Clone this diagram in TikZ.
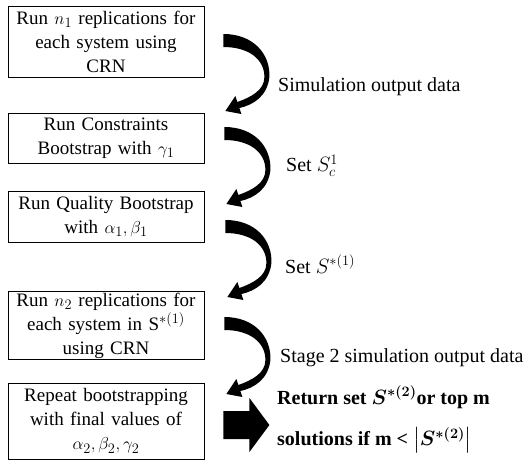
\documentclass[tikz,border=0pt]{standalone}
\usepackage{amsmath,bm}
\usepackage{fontspec}
\setmainfont{Liberation Serif}
\usetikzlibrary{calc}

% thick bent arrow, drawn from its start point
\newcommand{\bendarrow}[1]{%
    \fill[shift={(#1)}] (0,0) .. controls (30,0) and (47,20) .. (46,43) .. controls (44,62) and (30,71) .. (16,74) -- (18,80) -- (2,77) -- (12,62) -- (14,68) .. controls (28,63) and (41,56) .. (41,43) .. controls (41,25) and (25,13) .. (0,13) -- cycle;}

\begin{document}
\begin{tikzpicture}[x=1pt, y=-1pt,
    box/.style={draw, line width=0.8pt, minimum width=196pt, text width=192pt, align=center, inner sep=1pt, font=\fontsize{19}{24}\selectfont},
    lbl/.style={anchor=west, inner sep=0pt, font=\fontsize{20}{24}\selectfont},
    ret/.style={anchor=west, inner sep=0pt, font=\fontsize{20}{24}\selectfont\bfseries\boldmath}]

    \useasboundingbox (0,0) rectangle (527,471);

    \node[box, minimum height=71pt] (b1) at (106,41.5) {Run $n_1$ replications for\\ each system using\\ CRN};
    \node[box, minimum height=50pt] (b2) at (106,138) {Run Constraints\\ Bootstrap with $\gamma_1$};
    \node[box, minimum height=51pt] (b3) at (106,216.5) {Run Quality Bootstrap\\ with $\alpha_1, \beta_1$};
    \node[box, minimum height=65pt] (b4) at (106,325.5) {Run $n_2$ replications for\\ each system in S$^{*(1)}$\\ using CRN};
    \node[box, minimum height=76pt] (b5) at (106,421) {Repeat bootstrapping\\ with final values of\\ $\alpha_2, \beta_2, \gamma_2$};

    \coordinate (s1) at ($(b1.east)+(19,-7.5)$);
    \coordinate (s2) at ($(b2.east)+(20,-11)$);
    \coordinate (s3) at ($(b3.east)+(21,3.5)$);
    \coordinate (s4) at ($(b4.east)+(20,-8.5)$);
    \coordinate (s5) at ($(b5.east)+(19,4)$);

    \bendarrow{s1}
    \bendarrow{s2}
    \bendarrow{s3}
    \bendarrow{s4}

    \fill[shift={(s5)}] (0,-14) -- (26,-14) -- (26,-27) -- (46,0) -- (26,27) -- (26,14) -- (0,14) -- cycle;

    \node[lbl] (t1) at (278,87) {Simulation output data};
    \node[lbl] (t2) at (286,166) {Set $S_c^1$};
    \node[lbl] (t3) at (285,264) {Set $S^{*(1)}$};
    \node[lbl] (t4) at (280,358) {Stage 2 simulation output data};

    \node[ret] (r1) at (277,397) {Return set $S^{*(2)}$or top m};
    \node[ret] (r2) at (277,440) {solutions if m < $\bigl|S^{*(2)}\bigr|$};
\end{tikzpicture}
\end{document}
